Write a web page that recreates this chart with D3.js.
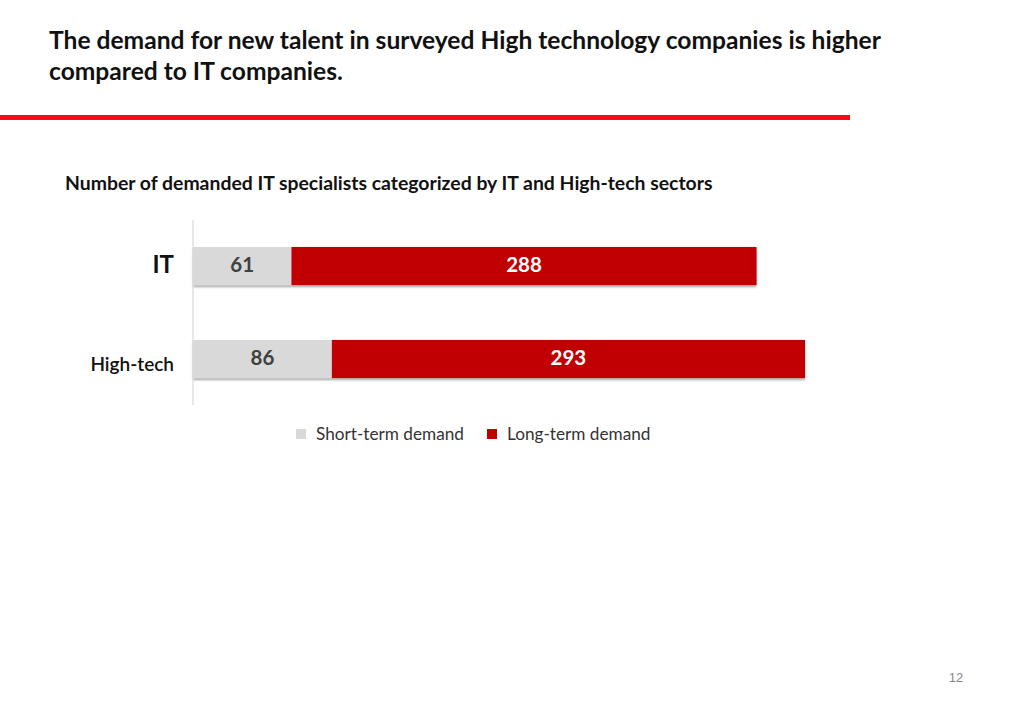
<!DOCTYPE html>
<html>
<head>
<meta charset="utf-8">
<script src="https://cdn.jsdelivr.net/npm/d3@7"></script>
<style>
  body { margin: 0; background: #fff; }
  svg { display: block; }
</style>
</head>
<body>
<div id="chart"></div>
<script>
const width = 1024;
const height = 709;

const sectors = ["IT", "High-tech"];
const shortTerm = [61, 86];
const longTerm = [288, 293];
const seriesNames = ["Short-term demand", "Long-term demand"];
const seriesColors = ["#d9d9d9", "#c00000"];

const font = "Lato, 'Open Sans', sans-serif";

const svg = d3.select("#chart")
  .append("svg")
  .attr("width", width)
  .attr("height", height);

// soft shadow under bars
const filt = svg.append("defs").append("filter")
  .attr("id", "barshadow")
  .attr("x", "-5%").attr("y", "-20%")
  .attr("width", "110%").attr("height", "150%");
filt.append("feDropShadow")
  .attr("dx", 0).attr("dy", 2)
  .attr("stdDeviation", 1.2)
  .attr("flood-color", "#000")
  .attr("flood-opacity", 0.35);

// title
const title = svg.append("text")
  .attr("x", 49)
  .attr("y", 49)
  .style("font-family", font)
  .style("font-weight", "bold")
  .style("font-size", "24.6px")
  .style("fill", "#111");
title.append("tspan").attr("x", 49).attr("dy", 0)
  .text("The demand for new talent in surveyed High technology companies is higher");
title.append("tspan").attr("x", 49).attr("dy", 31)
  .text("compared to IT companies.");

svg.append("rect")
  .attr("x", 0).attr("y", 115)
  .attr("width", 850).attr("height", 5)
  .style("fill", "#ff0a0a");

svg.append("text")
  .attr("x", 65).attr("y", 190)
  .style("font-family", font)
  .style("font-weight", "bold")
  .style("font-size", "19.4px")
  .style("fill", "#111")
  .text("Number of demanded IT specialists categorized by IT and High-tech sectors");

// scales
const x = d3.scaleLinear()
  .domain([0, d3.max(shortTerm.map((v, i) => v + longTerm[i]))])
  .range([193, 805]);

const y = d3.scaleBand()
  .domain(sectors)
  .range([220, 405])
  .paddingInner(0.59)
  .paddingOuter(0.29);

const rows = sectors.map((s, i) => ({
  sector: s,
  segs: [
    { key: 0, x0: 0, x1: shortTerm[i], v: shortTerm[i] },
    { key: 1, x0: shortTerm[i], x1: shortTerm[i] + longTerm[i], v: longTerm[i] }
  ]
}));

const g = svg.selectAll("g.row")
  .data(rows)
  .enter()
  .append("g")
  .attr("class", "row")
  .attr("filter", "url(#barshadow)");

g.selectAll("rect")
  .data(d => d.segs.map(s => Object.assign({ sector: d.sector }, s)))
  .enter()
  .append("rect")
  .attr("x", d => x(d.x0))
  .attr("y", d => y(d.sector))
  .attr("width", d => x(d.x1) - x(d.x0))
  .attr("height", y.bandwidth())
  .style("fill", d => seriesColors[d.key]);

svg.selectAll("text.val")
  .data(rows.flatMap(d => d.segs.map(s => Object.assign({ sector: d.sector }, s))))
  .enter()
  .append("text")
  .attr("class", "val")
  .attr("x", d => (x(d.x0) + x(d.x1)) / 2)
  .attr("y", d => y(d.sector) + y.bandwidth() / 2 - 1)
  .attr("dy", "0.35em")
  .attr("text-anchor", "middle")
  .style("font-family", font)
  .style("font-weight", "bold")
  .style("font-size", "20.5px")
  .style("fill", d => d.key === 0 ? "#404040" : "#ffffff")
  .text(d => d.v);

// category axis
const yAxis = svg.append("g")
  .attr("transform", "translate(193,0)")
  .call(d3.axisLeft(y).tickSize(0).tickPadding(19));
yAxis.select("path.domain")
  .attr("d", "M0,220V405")
  .style("stroke", "#d9d9d9")
  .style("stroke-width", 1.2);
yAxis.selectAll(".tick text")
  .style("font-family", font)
  .style("font-weight", d => d === "IT" ? "bold" : "600")
  .style("font-size", d => d === "IT" ? "24px" : "19px")
  .style("fill", "#111")
  .attr("dy", d => d === "IT" ? "0.3em" : "0.62em");

// legend
const legendX = [296, 487];
const leg = svg.selectAll("g.legend")
  .data(seriesNames)
  .enter()
  .append("g")
  .attr("class", "legend")
  .attr("transform", (d, i) => "translate(" + legendX[i] + ",429)");
leg.append("rect")
  .attr("width", 10).attr("height", 10)
  .style("fill", (d, i) => seriesColors[i]);
leg.append("text")
  .attr("x", 20).attr("y", 5)
  .attr("dy", "0.35em")
  .style("font-family", font)
  .style("font-size", "17.2px")
  .style("fill", "#333")
  .text(d => d);

svg.append("text")
  .attr("x", 956).attr("y", 682)
  .attr("text-anchor", "middle")
  .style("font-family", "'Liberation Sans', Arial, sans-serif")
  .style("font-size", "13px")
  .style("fill", "#888")
  .text("12");
</script>
</body>
</html>
